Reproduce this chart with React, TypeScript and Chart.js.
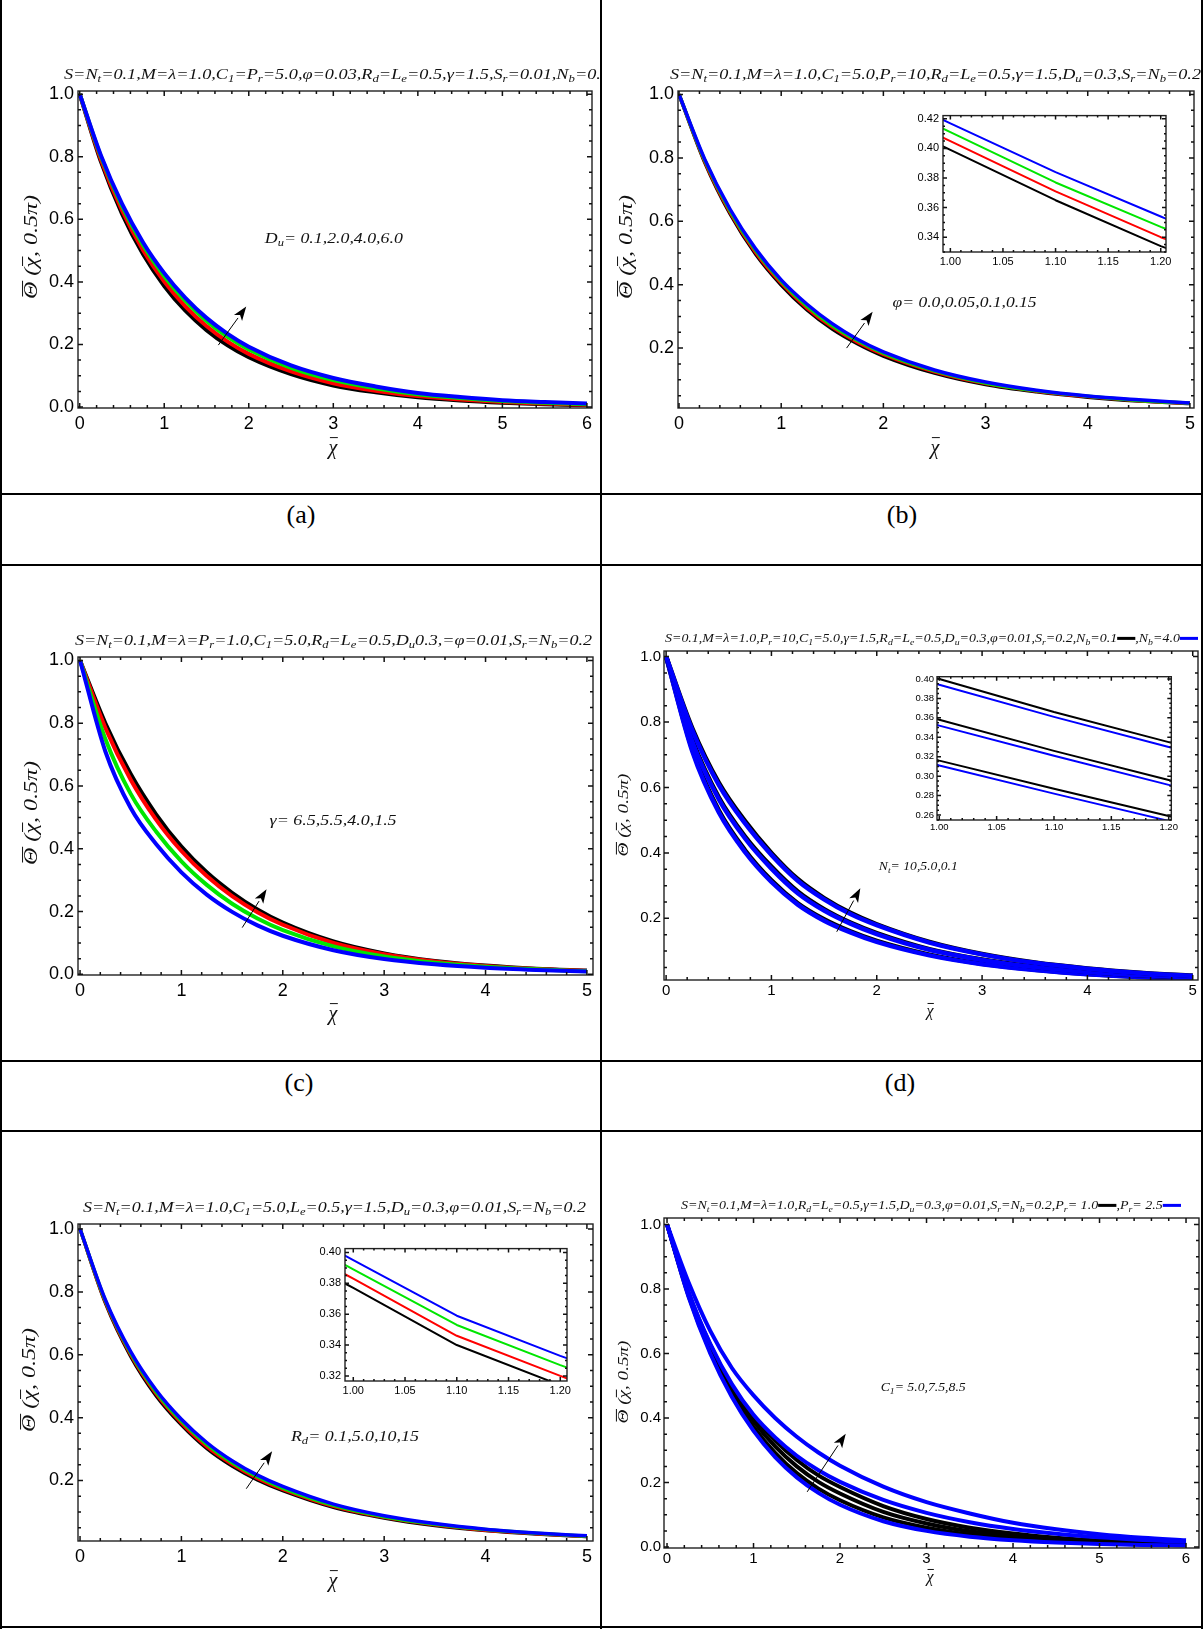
import React, { useEffect, useRef } from 'react';
import { Chart, registerables } from 'chart.js';
Chart.register(...registerables);

const SERIF = 'Liberation Serif';
const SANS = 'Liberation Sans';

// ---------------- data ----------------
// (a) Du = 0.1, 2.0, 4.0, 6.0
const A_X = [0, 0.25, 0.5, 0.75, 1, 1.25, 1.5, 1.75, 2, 2.5, 3, 3.5, 4, 4.5, 5, 5.5, 6];
const A_BLACK = [1, 0.785, 0.618, 0.488, 0.387, 0.308, 0.246, 0.197, 0.159, 0.105, 0.069, 0.047, 0.031, 0.021, 0.014, 0.009, 0.006];
const A_RED = [1, 0.792, 0.629, 0.501, 0.401, 0.322, 0.259, 0.209, 0.17, 0.114, 0.076, 0.052, 0.035, 0.024, 0.016, 0.011, 0.007];
const A_GREEN = [1, 0.801, 0.643, 0.517, 0.418, 0.339, 0.275, 0.224, 0.184, 0.125, 0.086, 0.06, 0.041, 0.029, 0.019, 0.014, 0.009];
const A_BLUE = [1, 0.805, 0.65, 0.526, 0.428, 0.349, 0.285, 0.234, 0.193, 0.133, 0.093, 0.066, 0.045, 0.032, 0.022, 0.016, 0.011];

// (b) phi = 0.0, 0.05, 0.1, 0.15
const B_X = [0, 0.25, 0.5, 0.75, 1, 1.25, 1.5, 1.75, 2, 2.5, 3, 3.5, 4, 4.5, 5];
const B_BLACK = [1, 0.787, 0.623, 0.496, 0.399, 0.321, 0.26, 0.213, 0.175, 0.121, 0.085, 0.062, 0.045, 0.033, 0.025];
const B_RED = [1, 0.79, 0.628, 0.502, 0.405, 0.327, 0.266, 0.218, 0.18, 0.125, 0.088, 0.064, 0.047, 0.034, 0.026];
const B_GREEN = [1, 0.794, 0.633, 0.508, 0.411, 0.333, 0.271, 0.223, 0.184, 0.128, 0.09, 0.065, 0.048, 0.035, 0.026];
const B_BLUE = [1, 0.797, 0.638, 0.513, 0.415, 0.339, 0.277, 0.227, 0.188, 0.131, 0.093, 0.067, 0.049, 0.037, 0.027];
// (b) inset readings
const BI_X = [0.95, 1.0, 1.1, 1.2, 1.25];
const BI_BLACK = [0.416, 0.399, 0.365, 0.334, 0.321];
const BI_RED = [0.422, 0.405, 0.371, 0.34, 0.327];
const BI_GREEN = [0.428, 0.411, 0.377, 0.347, 0.333];
const BI_BLUE = [0.434, 0.417, 0.384, 0.354, 0.339];

// (c) gamma = 6.5, 5.5, 4.0, 1.5
const C_X = [0, 0.25, 0.5, 0.75, 1, 1.25, 1.5, 1.75, 2, 2.5, 3, 3.5, 4, 4.5, 5];
const C_BLACK = [1, 0.8, 0.638, 0.51, 0.407, 0.325, 0.26, 0.207, 0.165, 0.105, 0.067, 0.043, 0.028, 0.018, 0.012];
const C_RED = [1, 0.785, 0.62, 0.493, 0.393, 0.313, 0.249, 0.198, 0.158, 0.1, 0.064, 0.041, 0.027, 0.017, 0.011];
const C_GREEN = [1, 0.75, 0.575, 0.455, 0.36, 0.285, 0.225, 0.178, 0.141, 0.089, 0.057, 0.037, 0.024, 0.016, 0.01];
const C_BLUE = [1, 0.71, 0.53, 0.415, 0.325, 0.254, 0.199, 0.156, 0.123, 0.077, 0.049, 0.032, 0.021, 0.014, 0.009];

// (d) Nt = 10, 5.0, 0.1 ; Nb = 0.1 (black), 4.0 (blue)
const D_X = [0, 0.25, 0.5, 0.75, 1, 1.25, 1.5, 1.75, 2, 2.5, 3, 3.5, 4, 4.5, 5];
const D_BLACK_LOW = [1, 0.715, 0.53, 0.408, 0.316, 0.246, 0.197, 0.16, 0.131, 0.089, 0.061, 0.043, 0.03, 0.021, 0.015];
const D_BLUE_LOW = [1, 0.709, 0.524, 0.402, 0.311, 0.242, 0.193, 0.157, 0.128, 0.087, 0.06, 0.042, 0.029, 0.021, 0.015];
const D_BLACK_MID = [1, 0.745, 0.57, 0.45, 0.358, 0.282, 0.228, 0.187, 0.155, 0.106, 0.074, 0.052, 0.037, 0.026, 0.019];
const D_BLUE_MID = [1, 0.739, 0.564, 0.444, 0.352, 0.277, 0.224, 0.184, 0.152, 0.104, 0.073, 0.051, 0.036, 0.026, 0.019];
const D_BLACK_TOP = [1, 0.78, 0.615, 0.497, 0.4, 0.32, 0.262, 0.217, 0.182, 0.128, 0.091, 0.065, 0.047, 0.034, 0.025];
const D_BLUE_TOP = [1, 0.774, 0.608, 0.49, 0.394, 0.315, 0.258, 0.213, 0.179, 0.126, 0.09, 0.064, 0.046, 0.033, 0.024];
// (d) inset readings
const DI_X = [0.95, 1.0, 1.1, 1.2, 1.25];
const DI_BLACK_LOW = [0.333, 0.316, 0.287, 0.259, 0.246];
const DI_BLUE_LOW = [0.328, 0.311, 0.282, 0.254, 0.242];
const DI_BLACK_MID = [0.376, 0.358, 0.326, 0.296, 0.282];
const DI_BLUE_MID = [0.37, 0.352, 0.321, 0.291, 0.277];
const DI_BLACK_TOP = [0.418, 0.4, 0.366, 0.335, 0.32];
const DI_BLUE_TOP = [0.412, 0.394, 0.361, 0.33, 0.315];

// (e) Rd = 0.1, 5.0, 10, 15
const E_X = [0, 0.25, 0.5, 0.75, 1, 1.25, 1.5, 1.75, 2, 2.5, 3, 3.5, 4, 4.5, 5];
const E_BLACK = [1, 0.765, 0.595, 0.47, 0.377, 0.302, 0.246, 0.202, 0.168, 0.115, 0.081, 0.057, 0.041, 0.03, 0.022];
const E_RED = [1, 0.768, 0.6, 0.476, 0.383, 0.308, 0.252, 0.207, 0.172, 0.118, 0.083, 0.059, 0.042, 0.031, 0.022];
const E_GREEN = [1, 0.772, 0.605, 0.482, 0.389, 0.315, 0.257, 0.212, 0.176, 0.121, 0.085, 0.061, 0.044, 0.032, 0.023];
const E_BLUE = [1, 0.775, 0.61, 0.488, 0.395, 0.321, 0.263, 0.217, 0.181, 0.125, 0.088, 0.063, 0.045, 0.033, 0.024];
// (e) inset readings
const EI_X = [0.95, 1.0, 1.1, 1.2, 1.25];
const EI_BLACK = [0.395, 0.377, 0.34, 0.314, 0.302];
const EI_RED = [0.401, 0.383, 0.346, 0.32, 0.308];
const EI_GREEN = [0.407, 0.389, 0.353, 0.327, 0.315];
const EI_BLUE = [0.413, 0.395, 0.359, 0.333, 0.321];

// (f) C1 = 5.0, 7.5, 8.5 ; Pr = 1.0 (black), 2.5 (blue)
const F_X = [0, 0.25, 0.5, 0.75, 1, 1.25, 1.5, 1.75, 2, 2.5, 3, 3.5, 4, 4.5, 5, 5.5, 6];
const F_BLACK_1 = [1, 0.778, 0.606, 0.474, 0.372, 0.292, 0.229, 0.181, 0.145, 0.092, 0.06, 0.039, 0.026, 0.018, 0.012, 0.008, 0.0055];
const F_BLACK_2 = [1, 0.783, 0.617, 0.488, 0.39, 0.312, 0.25, 0.202, 0.166, 0.109, 0.073, 0.049, 0.034, 0.023, 0.016, 0.011, 0.0075];
const F_BLACK_3 = [1, 0.788, 0.627, 0.5, 0.405, 0.33, 0.27, 0.222, 0.186, 0.127, 0.087, 0.06, 0.042, 0.029, 0.02, 0.014, 0.01];
const F_BLUE_1 = [1, 0.775, 0.6, 0.465, 0.36, 0.279, 0.216, 0.168, 0.131, 0.08, 0.05, 0.032, 0.021, 0.014, 0.0095, 0.0065, 0.0045];
const F_BLUE_2 = [1, 0.79, 0.63, 0.505, 0.41, 0.34, 0.283, 0.238, 0.202, 0.146, 0.106, 0.077, 0.056, 0.041, 0.03, 0.022, 0.016];
const F_BLUE_3 = [1, 0.82, 0.67, 0.555, 0.47, 0.4, 0.342, 0.293, 0.252, 0.187, 0.139, 0.104, 0.075, 0.055, 0.04, 0.029, 0.021];

// tick labels
const X_TICKS_6 = [0, 1, 2, 3, 4, 5, 6];
const X_TICKS_5 = [0, 1, 2, 3, 4, 5];
const Y_TICKS_FROM0 = [0, 0.2, 0.4, 0.6, 0.8, 1.0];
const Y_TICKS_FROM02 = [0.2, 0.4, 0.6, 0.8, 1.0];
const INSET_X_TICKS = [1.0, 1.05, 1.1, 1.15, 1.2];
const INSET_B_Y_TICKS = [0.34, 0.36, 0.38, 0.4, 0.42];
const INSET_D_Y_TICKS = [0.26, 0.28, 0.3, 0.32, 0.34, 0.36, 0.38, 0.4];
const INSET_E_Y_TICKS = [0.32, 0.34, 0.36, 0.38, 0.4];

// texts
const TITLE_A = 'S=N_{t}=0.1,M=λ=1.0,C_{1}=P_{r}=5.0,φ=0.03,R_{d}=L_{e}=0.5,γ=1.5,S_{r}=0.01,N_{b}=0.2';
const TITLE_B = 'S=N_{t}=0.1,M=λ=1.0,C_{1}=5.0,P_{r}=10,R_{d}=L_{e}=0.5,γ=1.5,D_{u}=0.3,S_{r}=N_{b}=0.2';
const TITLE_C = 'S=N_{t}=0.1,M=λ=P_{r}=1.0,C_{1}=5.0,R_{d}=L_{e}=0.5,D_{u}0.3,=φ=0.01,S_{r}=N_{b}=0.2';
const TITLE_D = 'S=0.1,M=λ=1.0,P_{r}=10,C_{1}=5.0,γ=1.5,R_{d}=L_{e}=0.5,D_{u}=0.3,φ=0.01,S_{r}=0.2,N_{b}=0.1[K],N_{b}=4.0[B]';
const TITLE_E = 'S=N_{t}=0.1,M=λ=1.0,C_{1}=5.0,L_{e}=0.5,γ=1.5,D_{u}=0.3,φ=0.01,S_{r}=N_{b}=0.2';
const TITLE_F = 'S=N_{t}=0.1,M=λ=1.0,R_{d}=L_{e}=0.5,γ=1.5,D_{u}=0.3,φ=0.01,S_{r}=N_{b}=0.2,P_{r}= 1.0[K],P_{r}= 2.5[B]';
const LABEL_A = 'D_{u}= 0.1,2.0,4.0,6.0';
const LABEL_B = 'φ= 0.0,0.05,0.1,0.15';
const LABEL_C = 'γ= 6.5,5.5,4.0,1.5';
const LABEL_D = 'N_{t}= 10,5.0,0.1';
const LABEL_E = 'R_{d}= 0.1,5.0,10,15';
const LABEL_F = 'C_{1}= 5.0,7.5,8.5';
const Y_TITLE = '~{Θ} (~{χ}, 0.5π)';
const X_TITLE = '~{χ}';
const CAPTIONS = ['(a)', '(b)', '(c)', '(d)'];

const BLACK = '#000000';
const RED = '#ff0000';
const GREEN = '#00e600';
const BLUE = '#0000ff';

// ---------------- helpers ----------------
type Rect = { x: number; y: number; w: number; h: number };
type Frame = { l: number; r: number; t: number; b: number };
type Series = { xs: number[]; ys: number[]; color: string };
type Spec = {
  cv: Rect; fr: Frame; xr: [number, number]; yr: [number, number];
  xTicks: number[]; yTicks: number[]; xMinor: number; yMinor: number;
  xDec: number; yDec: number; tickFont: number; xPad: number; yPad: number;
  series: Series[]; lw: number; straight?: boolean; white?: boolean;
  majorLen: number; minorLen: number;
  title?: { text: string; x: number; y: number; w: number; size: number };
  yTitle?: { x: number; y: number; w: number; size: number };
  xTitle?: { x: number; y: number; size: number };
  label?: { text: string; x: number; y: number; w: number; size: number };
  arrow?: number[];
};

type Seg = { t: string; k: string };
function parseRich(s: string): Seg[] {
  const out: Seg[] = [];
  let buf = '';
  let i = 0;
  const flush = () => { if (buf) { out.push({ t: buf, k: 'n' }); buf = ''; } };
  while (i < s.length) {
    if ((s[i] === '_' || s[i] === '~') && s[i + 1] === '{') {
      flush();
      const j = s.indexOf('}', i);
      out.push({ t: s.slice(i + 2, j), k: s[i] === '_' ? 's' : 'o' });
      i = j + 1;
    } else if (s.slice(i, i + 3) === '[K]' || s.slice(i, i + 3) === '[B]') {
      flush();
      out.push({ t: '', k: s[i + 1] });
      i += 3;
    } else { buf += s[i]; i++; }
  }
  flush();
  return out;
}

function drawRich(ctx: CanvasRenderingContext2D, s: string, x: number, yMid: number,
  o: { size: number; width?: number; align?: string; color?: string }) {
  const segs = parseRich(s);
  const fN = `italic ${o.size}px "${SERIF}"`;
  const fS = `italic ${o.size * 0.7}px "${SERIF}"`;
  const lineLen = o.size * 1.3;
  const widths = segs.map((g) => {
    if (g.k === 'K' || g.k === 'B') return lineLen;
    ctx.font = g.k === 's' ? fS : fN;
    return ctx.measureText(g.t).width;
  });
  const total = widths.reduce((a, b) => a + b, 0);
  const sx = o.width ? o.width / total : 1;
  const base = yMid + o.size * 0.33;
  ctx.save();
  ctx.translate(x, base);
  ctx.scale(sx, 1);
  let cx = o.align === 'center' ? -total / 2 : 0;
  ctx.textBaseline = 'alphabetic';
  ctx.textAlign = 'left';
  const col = o.color || '#111';
  segs.forEach((g, i) => {
    const w = widths[i];
    if (g.k === 'K' || g.k === 'B') {
      ctx.strokeStyle = g.k === 'K' ? BLACK : BLUE;
      ctx.lineWidth = 3;
      ctx.beginPath();
      ctx.moveTo(cx, -o.size * 0.3);
      ctx.lineTo(cx + w, -o.size * 0.3);
      ctx.stroke();
    } else {
      ctx.fillStyle = col;
      ctx.font = g.k === 's' ? fS : fN;
      ctx.fillText(g.t, cx, g.k === 's' ? o.size * 0.22 : 0);
      if (g.k === 'o') {
        ctx.strokeStyle = col;
        ctx.lineWidth = 1;
        ctx.beginPath();
        ctx.moveTo(cx + w * 0.15, -o.size * 0.8);
        ctx.lineTo(cx + w * 1.05, -o.size * 0.8);
        ctx.stroke();
      }
    }
    cx += w;
  });
  ctx.restore();
}

function drawArrow(ctx: CanvasRenderingContext2D, x1: number, y1: number, x2: number, y2: number) {
  const head = 14, hw = 5;
  const a = Math.atan2(y2 - y1, x2 - x1);
  const bx = x2 - head * Math.cos(a), by = y2 - head * Math.sin(a);
  ctx.save();
  ctx.strokeStyle = '#000';
  ctx.lineWidth = 1;
  ctx.beginPath(); ctx.moveTo(x1, y1); ctx.lineTo(bx, by); ctx.stroke();
  ctx.fillStyle = '#000';
  ctx.beginPath();
  ctx.moveTo(x2, y2);
  ctx.lineTo(bx + hw * Math.sin(a), by - hw * Math.cos(a));
  ctx.lineTo(x2 - head * 0.75 * Math.cos(a), y2 - head * 0.75 * Math.sin(a));
  ctx.lineTo(bx - hw * Math.sin(a), by + hw * Math.cos(a));
  ctx.closePath(); ctx.fill();
  ctx.restore();
}

function minorTicks(min: number, max: number, step: number, majors: number[]) {
  const out: number[] = [];
  for (let k = Math.ceil(min / step - 1e-9); k * step <= max + 1e-9; k++) {
    const v = +(k * step).toFixed(6);
    if (!majors.some((m) => Math.abs(m - v) < 1e-9)) out.push(v);
  }
  return out;
}

function decorPlugin(s: Spec) {
  return {
    id: 'decor',
    beforeDraw(chart: any) {
      if (!s.white) return;
      const { ctx, chartArea: a } = chart;
      ctx.save(); ctx.fillStyle = '#fff';
      ctx.fillRect(a.left, a.top, a.right - a.left, a.bottom - a.top);
      ctx.restore();
    },
    afterDraw(chart: any) {
      const { ctx, chartArea: a } = chart;
      const xs = chart.scales.x, ys = chart.scales.y;
      const ox = s.cv.x, oy = s.cv.y;
      ctx.save();
      ctx.strokeStyle = '#222';
      ctx.lineWidth = 1.4;
      ctx.strokeRect(a.left, a.top, a.right - a.left, a.bottom - a.top);
      ctx.strokeStyle = '#111';
      ctx.lineWidth = 1.5;
      const tx = (v: number, len: number) => {
        const p = xs.getPixelForValue(v);
        ctx.beginPath();
        ctx.moveTo(p, a.bottom); ctx.lineTo(p, a.bottom - len);
        ctx.moveTo(p, a.top); ctx.lineTo(p, a.top + len);
        ctx.stroke();
      };
      const ty = (v: number, len: number) => {
        const p = ys.getPixelForValue(v);
        ctx.beginPath();
        ctx.moveTo(a.left, p); ctx.lineTo(a.left + len, p);
        ctx.moveTo(a.right, p); ctx.lineTo(a.right - len, p);
        ctx.stroke();
      };
      s.xTicks.forEach((v) => tx(v, s.majorLen));
      s.yTicks.forEach((v) => ty(v, s.majorLen));
      minorTicks(s.xr[0], s.xr[1], s.xMinor, s.xTicks).forEach((v) => tx(v, s.minorLen));
      minorTicks(s.yr[0], s.yr[1], s.yMinor, s.yTicks).forEach((v) => ty(v, s.minorLen));
      if (s.arrow) {
        const [x1, y1, x2, y2] = s.arrow;
        drawArrow(ctx, xs.getPixelForValue(x1), ys.getPixelForValue(y1), xs.getPixelForValue(x2), ys.getPixelForValue(y2));
      }
      if (s.label) {
        drawRich(ctx, s.label.text, xs.getPixelForValue(s.label.x), ys.getPixelForValue(s.label.y),
          { size: s.label.size, width: s.label.w });
      }
      if (s.title) {
        drawRich(ctx, s.title.text, s.title.x - ox, s.title.y - oy, { size: s.title.size, width: s.title.w });
      }
      if (s.xTitle) {
        drawRich(ctx, X_TITLE, s.xTitle.x - ox, s.xTitle.y - oy, { size: s.xTitle.size, align: 'center' });
      }
      if (s.yTitle) {
        ctx.save();
        ctx.translate(s.yTitle.x - ox, s.yTitle.y - oy);
        ctx.rotate(-Math.PI / 2);
        drawRich(ctx, Y_TITLE, 0, 0, { size: s.yTitle.size, width: s.yTitle.w, align: 'center' });
        ctx.restore();
      }
      ctx.restore();
    },
  };
}

function buildConfig(s: Spec): any {
  const padTop = s.fr.t - s.cv.y;
  const padRight = s.cv.x + s.cv.w - s.fr.r;
  const yW = s.fr.l - s.cv.x;
  const xH = s.cv.y + s.cv.h - s.fr.b;
  const n = s.series.length;
  const axisCommon = (dec: number, pad: number) => ({
    type: 'linear',
    grid: { display: false, drawTicks: false },
    border: { display: false },
    ticks: {
      color: '#000', font: { family: SANS, size: s.tickFont }, padding: pad,
      maxRotation: 0, autoSkip: false,
      callback: (v: any) => Number(v).toFixed(dec),
    },
  });
  return {
    type: 'line',
    data: {
      datasets: s.series.map((se, k) => ({
        data: se.xs.map((x, i) => ({ x, y: se.ys[i] })),
        borderColor: se.color,
        borderWidth: s.lw,
        pointRadius: 0,
        fill: false,
        tension: 0,
        order: n - k,
        cubicInterpolationMode: s.straight ? 'default' : 'monotone',
        borderJoinStyle: 'round',
      })),
    },
    options: {
      responsive: false,
      animation: false,
      events: [],
      layout: { padding: { top: padTop, right: padRight, left: 0, bottom: 0 }, autoPadding: false },
      scales: {
        x: {
          ...axisCommon(s.xDec, s.xPad), position: 'bottom', min: s.xr[0], max: s.xr[1],
          afterFit: (sc: any) => { sc.height = xH; },
          afterBuildTicks: (sc: any) => { sc.ticks = s.xTicks.map((v) => ({ value: v })); },
        },
        y: {
          ...axisCommon(s.yDec, s.yPad), position: 'left', min: s.yr[0], max: s.yr[1],
          afterFit: (sc: any) => { sc.width = yW; },
          afterBuildTicks: (sc: any) => { sc.ticks = s.yTicks.map((v) => ({ value: v })); },
        },
      },
      plugins: { legend: { display: false }, tooltip: { enabled: false }, title: { display: false } },
    },
    plugins: [decorPlugin(s)],
  };
}

const ser = (xs: number[], ys: number[], color: string): Series => ({ xs, ys, color });

const MAIN = { xMinor: 0.2, yMinor: 0.05, xDec: 0, yDec: 1, majorLen: 5, minorLen: 3 };
const INSET = { xMinor: 0.01, yMinor: 0.005, xDec: 2, yDec: 2, majorLen: 4, minorLen: 2, lw: 2, straight: true, white: true };

const SPECS: Spec[] = [
  // (a)
  {
    ...MAIN, cv: { x: 0, y: 0, w: 600, h: 493 }, fr: { l: 78, r: 592, t: 91, b: 408 },
    xr: [-0.02, 6.06], yr: [-0.003, 1.01], xTicks: X_TICKS_6, yTicks: Y_TICKS_FROM0,
    tickFont: 18, xPad: 5, yPad: 4, lw: 4,
    series: [ser(A_X, A_BLACK, BLACK), ser(A_X, A_RED, RED), ser(A_X, A_GREEN, GREEN), ser(A_X, A_BLUE, BLUE)],
    title: { text: TITLE_A, x: 64, y: 74, w: 546, size: 15 },
    yTitle: { x: 31, y: 247, w: 104, size: 18 }, xTitle: { x: 333, y: 447, size: 20 },
    label: { text: LABEL_A, x: 2.19, y: 0.54, w: 138, size: 15 }, arrow: [1.64, 0.198, 1.97, 0.321],
  },
  // (b)
  {
    ...MAIN, cv: { x: 602, y: 0, w: 599, h: 493 }, fr: { l: 678, r: 1194, t: 91, b: 408 },
    xr: [-0.01, 5.04], yr: [0.011, 1.011], xTicks: X_TICKS_5, yTicks: Y_TICKS_FROM02,
    tickFont: 18, xPad: 5, yPad: 4, lw: 3.5,
    series: [ser(B_X, B_BLACK, BLACK), ser(B_X, B_RED, RED), ser(B_X, B_GREEN, GREEN), ser(B_X, B_BLUE, BLUE)],
    title: { text: TITLE_B, x: 670, y: 74, w: 531, size: 15 },
    yTitle: { x: 626, y: 247, w: 104, size: 18 }, xTitle: { x: 935, y: 447, size: 20 },
    label: { text: LABEL_B, x: 2.09, y: 0.345, w: 144, size: 15 }, arrow: [1.64, 0.2, 1.895, 0.315],
  },
  // (b) inset
  {
    ...INSET, cv: { x: 900, y: 105, w: 275, h: 172 }, fr: { l: 943, r: 1166, t: 115, b: 252 },
    xr: [0.993, 1.205], yr: [0.33, 0.4222], xTicks: INSET_X_TICKS, yTicks: INSET_B_Y_TICKS,
    tickFont: 11, xPad: 3, yPad: 4,
    series: [ser(BI_X, BI_BLACK, BLACK), ser(BI_X, BI_RED, RED), ser(BI_X, BI_GREEN, GREEN), ser(BI_X, BI_BLUE, BLUE)],
  },
  // (c)
  {
    ...MAIN, cv: { x: 0, y: 566, w: 600, h: 494 }, fr: { l: 78, r: 593, t: 657, b: 975 },
    xr: [-0.02, 5.06], yr: [-0.002, 1.011], xTicks: X_TICKS_5, yTicks: Y_TICKS_FROM0,
    tickFont: 18, xPad: 5, yPad: 4, lw: 4,
    series: [ser(C_X, C_BLACK, BLACK), ser(C_X, C_RED, RED), ser(C_X, C_GREEN, GREEN), ser(C_X, C_BLUE, BLUE)],
    title: { text: TITLE_C, x: 75, y: 640, w: 517, size: 15 },
    yTitle: { x: 31, y: 813, w: 104, size: 18 }, xTitle: { x: 333, y: 1013, size: 20 },
    label: { text: LABEL_C, x: 1.87, y: 0.492, w: 127, size: 15 }, arrow: [1.6, 0.149, 1.84, 0.271],
  },
  // (d)
  {
    ...MAIN, cv: { x: 602, y: 566, w: 599, h: 494 }, fr: { l: 664, r: 1198, t: 651, b: 980 },
    xr: [-0.02, 5.05], yr: [0.0116, 1.017], xTicks: X_TICKS_5, yTicks: Y_TICKS_FROM02,
    tickFont: 15, xPad: 2, yPad: 3, lw: 4.5,
    series: [
      ser(D_X, D_BLACK_LOW, BLACK), ser(D_X, D_BLUE_LOW, BLUE),
      ser(D_X, D_BLACK_MID, BLACK), ser(D_X, D_BLUE_MID, BLUE),
      ser(D_X, D_BLACK_TOP, BLACK), ser(D_X, D_BLUE_TOP, BLUE),
    ],
    title: { text: TITLE_D, x: 665, y: 638, w: 533, size: 13 },
    yTitle: { x: 623, y: 815, w: 83, size: 14 }, xTitle: { x: 930, y: 1011, size: 16 },
    label: { text: LABEL_D, x: 2.02, y: 0.3585, w: 79, size: 12 }, arrow: [1.62, 0.159, 1.844, 0.292],
  },
  // (d) inset
  {
    ...INSET, cv: { x: 895, y: 668, w: 285, h: 172 }, fr: { l: 937, r: 1173, t: 676, b: 820 },
    xr: [0.998, 1.2023], yr: [0.2549, 0.4023], xTicks: INSET_X_TICKS, yTicks: INSET_D_Y_TICKS,
    tickFont: 9.5, xPad: 2, yPad: 3,
    series: [
      ser(DI_X, DI_BLACK_LOW, BLACK), ser(DI_X, DI_BLUE_LOW, BLUE),
      ser(DI_X, DI_BLACK_MID, BLACK), ser(DI_X, DI_BLUE_MID, BLUE),
      ser(DI_X, DI_BLACK_TOP, BLACK), ser(DI_X, DI_BLUE_TOP, BLUE),
    ],
  },
  // (e)
  {
    ...MAIN, cv: { x: 0, y: 1132, w: 600, h: 494 }, fr: { l: 78, r: 593, t: 1224, b: 1541 },
    xr: [-0.02, 5.06], yr: [0.0076, 1.016], xTicks: X_TICKS_5, yTicks: Y_TICKS_FROM02,
    tickFont: 18, xPad: 5, yPad: 4, lw: 3.5,
    series: [ser(E_X, E_BLACK, BLACK), ser(E_X, E_RED, RED), ser(E_X, E_GREEN, GREEN), ser(E_X, E_BLUE, BLUE)],
    title: { text: TITLE_E, x: 83, y: 1207, w: 503, size: 15 },
    yTitle: { x: 29, y: 1380, w: 104, size: 18 }, xTitle: { x: 333, y: 1580, size: 20 },
    label: { text: LABEL_E, x: 2.08, y: 0.3416, w: 128, size: 15 }, arrow: [1.64, 0.174, 1.895, 0.293],
  },
  // (e) inset
  {
    ...INSET, cv: { x: 300, y: 1238, w: 275, h: 165 }, fr: { l: 345, r: 567, t: 1248, b: 1381 },
    xr: [0.992, 1.2065], yr: [0.3167, 0.4025], xTicks: INSET_X_TICKS, yTicks: INSET_E_Y_TICKS,
    tickFont: 11, xPad: 3, yPad: 4,
    series: [ser(EI_X, EI_BLACK, BLACK), ser(EI_X, EI_RED, RED), ser(EI_X, EI_GREEN, GREEN), ser(EI_X, EI_BLUE, BLUE)],
  },
  // (f)
  {
    ...MAIN, cv: { x: 602, y: 1132, w: 599, h: 494 }, fr: { l: 664, r: 1199, t: 1218, b: 1548 },
    xr: [-0.035, 6.15], yr: [-0.003, 1.02], xTicks: X_TICKS_6, yTicks: Y_TICKS_FROM0,
    tickFont: 15, xPad: 2, yPad: 3, lw: 4,
    series: [
      ser(F_X, F_BLACK_1, BLACK), ser(F_X, F_BLACK_2, BLACK), ser(F_X, F_BLACK_3, BLACK),
      ser(F_X, F_BLUE_1, BLUE), ser(F_X, F_BLUE_2, BLUE), ser(F_X, F_BLUE_3, BLUE),
    ],
    title: { text: TITLE_F, x: 681, y: 1205, w: 500, size: 13 },
    yTitle: { x: 623, y: 1382, w: 83, size: 14 }, xTitle: { x: 930, y: 1577, size: 16 },
    label: { text: LABEL_F, x: 2.47, y: 0.496, w: 85, size: 12 }, arrow: [1.62, 0.171, 2.066, 0.351],
  },
];

function ChartBox({ spec }: { spec: Spec }) {
  const ref = useRef<HTMLCanvasElement>(null);
  useEffect(() => {
    const chart = new Chart(ref.current as HTMLCanvasElement, buildConfig(spec));
    return () => chart.destroy();
  }, [spec]);
  return (
    <canvas
      ref={ref}
      width={spec.cv.w}
      height={spec.cv.h}
      style={{ position: 'absolute', left: spec.cv.x, top: spec.cv.y, width: spec.cv.w, height: spec.cv.h }}
    />
  );
}

const H_LINES = [493, 564, 1060, 1130, 1626];
const V_LINES = [0, 600, 1201];
const CAPTION_POS = [[301, 515], [902, 515], [299, 1083], [900, 1083]];

export default function App() {
  return (
    <div style={{ position: 'absolute', left: 0, top: 0, width: 1203, height: 1629, background: '#fff', overflow: 'hidden' }}>
      {SPECS.map((s, i) => <ChartBox key={i} spec={s} />)}
      {H_LINES.map((y, i) => (
        <div key={'h' + i} style={{ position: 'absolute', left: 0, top: y, width: 1203, height: 2, background: '#000' }} />
      ))}
      {V_LINES.map((x, i) => (
        <div key={'v' + i} style={{ position: 'absolute', left: x, top: 0, width: 2, height: 1629, background: '#000' }} />
      ))}
      {CAPTIONS.map((c, i) => (
        <div key={'c' + i} style={{
          position: 'absolute', left: CAPTION_POS[i][0] - 40, top: CAPTION_POS[i][1] - 16, width: 80, height: 32,
          lineHeight: '32px', textAlign: 'center', fontFamily: `"${SERIF}", serif`, fontSize: 26, color: '#000',
        }}>{c}</div>
      ))}
    </div>
  );
}
